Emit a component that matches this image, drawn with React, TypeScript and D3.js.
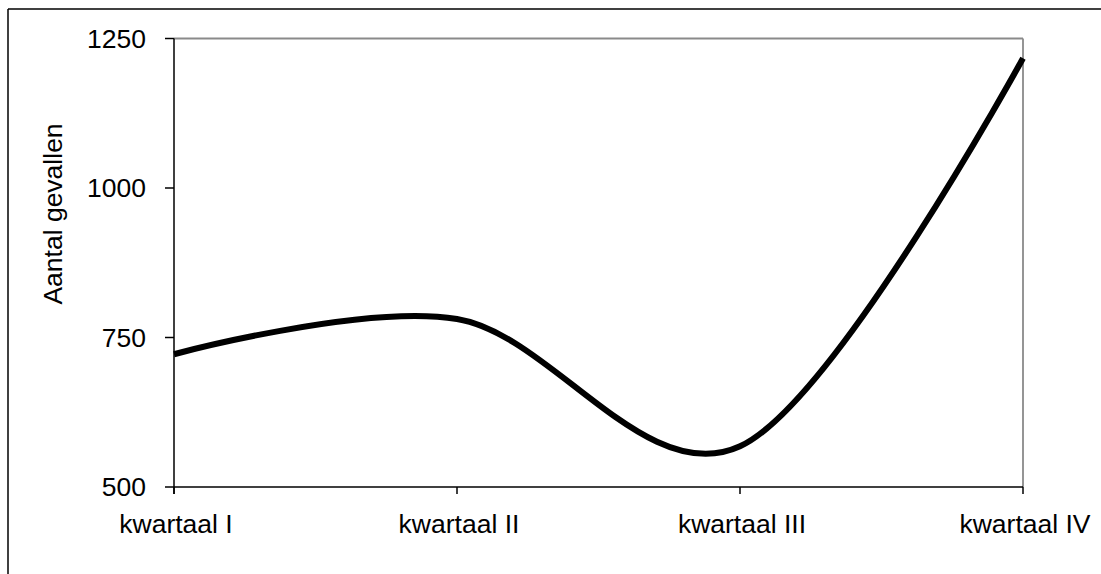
import React from "react";
import * as d3 from "d3";

const categories = ["kwartaal I", "kwartaal II", "kwartaal III", "kwartaal IV"];
const values = [722, 781, 568, 1217];
const yTicks = [500, 750, 1000, 1250];
const yTitle = "Aantal gevallen";

const W = 1101;
const H = 574;
const left = 174;
const right = 1023;
const top = 38.5;
const bottom = 487;
const font = "Arial, 'Liberation Sans', sans-serif";
const fs = 26.5;

export default function App() {
  const x = d3.scalePoint<string>().domain(categories).range([left, right]).padding(0);
  const y = d3.scaleLinear().domain([500, 1250]).range([bottom, top]);
  const line = d3
    .line<number>()
    .x((_, i) => x(categories[i]) as number)
    .y((d) => y(d))
    .curve(d3.curveCardinal.tension(0));
  const path = line(values) || "";

  return (
    <svg
      width={W}
      height={H}
      style={{ position: "absolute", left: 0, top: 0, background: "#fff" }}
      fontFamily={font}
    >
      <rect x={0} y={0} width={W} height={H} fill="#fff" />
      {/* outer chart border (extends beyond page) */}
      <line x1={8} y1={9} x2={W + 10} y2={9} stroke="#000" strokeWidth={1.5} />
      <line x1={8} y1={9} x2={8} y2={H + 10} stroke="#000" strokeWidth={1.5} />

      {/* plot area border: grey top and right */}
      <line x1={left} y1={top} x2={right} y2={top} stroke="#8a8a8a" strokeWidth={1.8} />
      <line x1={right} y1={top} x2={right} y2={bottom} stroke="#8a8a8a" strokeWidth={1.8} />

      {/* y axis */}
      <line x1={left} y1={top} x2={left} y2={bottom + 7} stroke="#000" strokeWidth={1.5} />
      {yTicks.map((t) => (
        <g key={t}>
          <line x1={left - 9} x2={left} y1={y(t)} y2={y(t)} stroke="#000" strokeWidth={1.5} />
          <text
            x={146}
            y={y(t)}
            textAnchor="end"
            dominantBaseline="central"
            fontSize={fs}
            fill="#000"
          >
            {t}
          </text>
        </g>
      ))}

      {/* x axis */}
      <line x1={left} y1={bottom} x2={right} y2={bottom} stroke="#000" strokeWidth={1.5} />
      {categories.map((c) => (
        <g key={c}>
          <line
            x1={x(c) as number}
            x2={x(c) as number}
            y1={bottom}
            y2={bottom + 7}
            stroke="#000"
            strokeWidth={1.5}
          />
          <text x={(x(c) as number) + 2} y={533} textAnchor="middle" fontSize={fs} fill="#000">
            {c}
          </text>
        </g>
      ))}

      {/* y title */}
      <text
        transform={`translate(62,214) rotate(-90)`}
        textAnchor="middle"
        fontSize={fs}
        fill="#000"
      >
        {yTitle}
      </text>

      {/* data line */}
      <path d={path} fill="none" stroke="#000" strokeWidth={6} strokeLinejoin="round" />
    </svg>
  );
}
